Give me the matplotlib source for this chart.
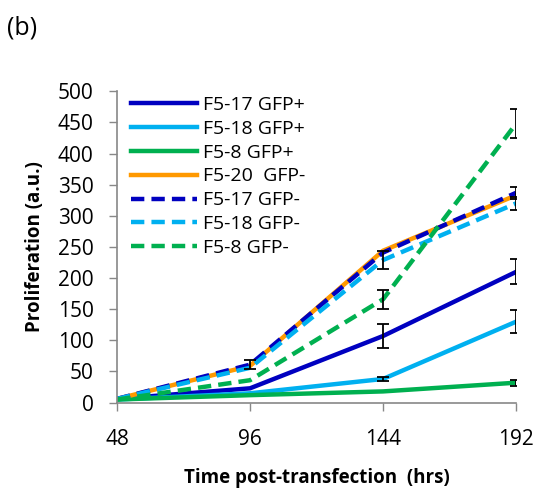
import matplotlib.pyplot as plt
import numpy as np

plt.rcParams['font.family'] = ['Open Sans', 'DejaVu Sans']

hours = [48, 96, 144, 192]

# series values (a.u.)
f517_pos = [6, 23, 107, 210]
f518_pos = [5, 15, 38, 130]
f58_pos = [5, 12, 18, 32]
f520_neg = [6, 59, 244, 333]
f517_neg = [6, 61, 241, 337]
f518_neg = [6, 56, 229, 320]
f58_neg = [5, 36, 166, 448]

# error bars (+/-)
f517_pos_err = [0, 0, 20, 20]
f518_pos_err = [0, 0, 3, 18]
f58_pos_err = [0, 0, 0, 5]
f517_neg_err = [0, 7, 0, 10]
f518_neg_err = [0, 0, 14, 10]
f58_neg_err = [0, 0, 15, 23]

labels = ['F5-17 GFP+', 'F5-18 GFP+', 'F5-8 GFP+', 'F5-20  GFP-',
          'F5-17 GFP-', 'F5-18 GFP-', 'F5-8 GFP-']

dblue = '#0000c0'
lblue = '#00b0f0'
green = '#00b050'
orange = '#ff9900'

fig = plt.figure(figsize=(5.37, 4.91), dpi=100)
ax = fig.add_axes([0.218, 0.18, 0.743, 0.634])

lw = 3.2
dash = (0, (3, 1.6))
ax.plot(hours, f517_pos, color=dblue, lw=lw, label=labels[0])
ax.plot(hours, f518_pos, color=lblue, lw=lw, label=labels[1])
ax.plot(hours, f58_pos, color=green, lw=lw, label=labels[2])
ax.plot(hours, f520_neg, color=orange, lw=lw, label=labels[3])
ax.plot(hours, f517_neg, color=dblue, lw=lw, ls=dash, label=labels[4])
ax.plot(hours, f518_neg, color=lblue, lw=lw, ls=dash, label=labels[5])
ax.plot(hours, f58_neg, color=green, lw=lw, ls=dash, label=labels[6])

for vals, err in [(f517_pos, f517_pos_err), (f518_pos, f518_pos_err),
                  (f58_pos, f58_pos_err), (f517_neg, f517_neg_err),
                  (f518_neg, f518_neg_err), (f58_neg, f58_neg_err)]:
    x = [h for h, e in zip(hours, err) if e > 0]
    y = [v for v, e in zip(vals, err) if e > 0]
    e = [e for e in err if e > 0]
    ax.errorbar(x, y, yerr=e, fmt='none', ecolor='black',
                elinewidth=1.3, capsize=4.5, capthick=1.3, zorder=5)

ax.set_xlim(48, 192)
ax.set_ylim(0, 500)
ax.set_xticks(hours)
ax.set_yticks(np.arange(0, 501, 50))
ax.tick_params(labelsize=15, length=6, color='#888888', width=1)
ax.tick_params(axis='x', pad=13)
ax.tick_params(axis='y', pad=11)
for s in ['top', 'right']:
    ax.spines[s].set_visible(False)
for s in ['left', 'bottom']:
    ax.spines[s].set_color('#888888')
    ax.spines[s].set_linewidth(1.2)

ax.set_xlabel('Time post-transfection  (hrs)', fontsize=13.5, fontweight='bold', labelpad=13)
ax.set_ylabel('Proliferation (a.u.)', fontsize=13.5, fontweight='bold', labelpad=9)

ax.legend(loc='upper left', bbox_to_anchor=(0.015, 1.01), frameon=False, fontsize=14,
          handlelength=3.4, handletextpad=0.3, labelspacing=0.3, borderaxespad=0)

fig.text(0.013, 0.93, '(b)', fontsize=18)

fig.savefig('out.png', dpi=100)
